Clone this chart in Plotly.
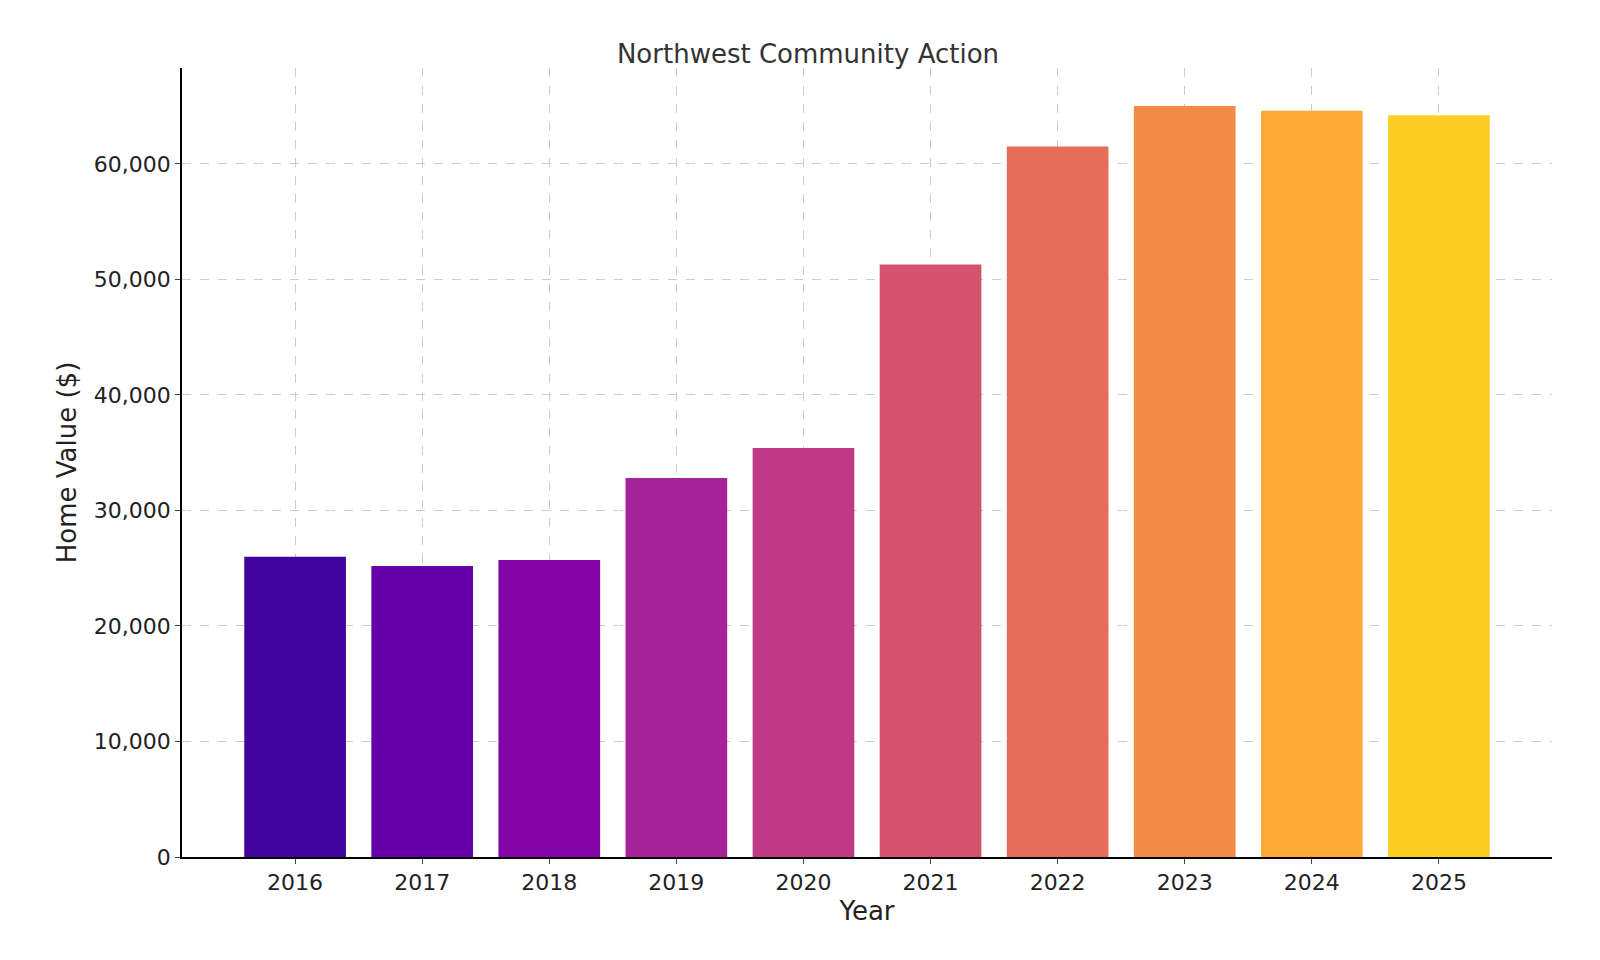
import plotly.graph_objects as go

years = ["2016","2017","2018","2019","2020","2021","2022","2023","2024","2025"]
values = [26000, 25200, 25700, 32800, 35400, 51300, 61500, 65000, 64600, 64200]
colors = ["#42049e","#6600a7","#8405a7","#a52297","#bf3984","#d45270","#e76d5b","#f48a48","#fba937","#fcce25"]

fig = go.Figure(go.Bar(x=list(range(len(years))), y=values, marker_color=colors,
                       marker_line_width=0, width=0.8))
fig.update_layout(
    width=1600, height=960, plot_bgcolor="white", paper_bgcolor="white",
    margin=dict(l=174, r=56, t=60, b=111),
    font=dict(family="DejaVu Sans", size=22, color="#222"),
    title=dict(text="Northwest Community Action", x=0.5, xanchor="center", y=0.962,
               font=dict(size=26, color="#333")),
    showlegend=False,
)
fig.update_xaxes(tickmode="array", tickvals=list(range(len(years))), ticktext=years,
                 range=[-0.89, 9.89], showgrid=True, gridcolor="#cccccc", griddash="dash",
                 showline=True, linecolor="black", linewidth=1.5, ticks="outside",
                 title=dict(text="Year", standoff=8))
fig.update_yaxes(range=[0, 68300], tickvals=[0,10000,20000,30000,40000,50000,60000],
                 tickprefix="$", tickformat=",", showgrid=True, gridcolor="#cccccc",
                 griddash="dash", showline=True, linecolor="black", linewidth=1.5,
                 ticks="outside", zeroline=False, title=dict(text="Home Value ($)", standoff=10))
fig.write_html("out.html")
